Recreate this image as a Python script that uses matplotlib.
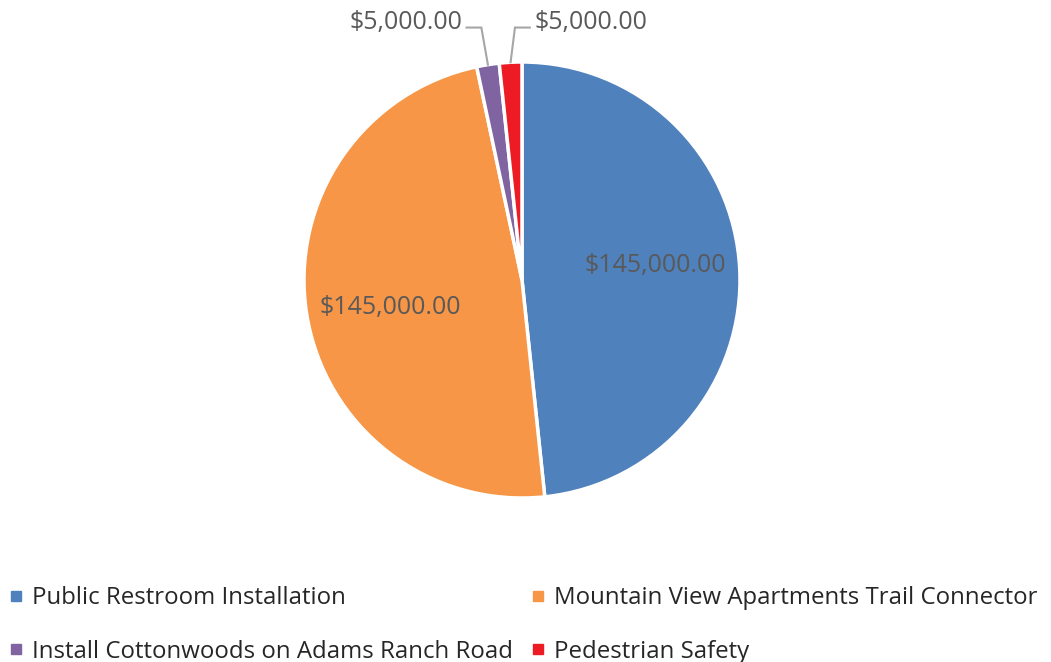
import numpy as np
import matplotlib
matplotlib.use('Agg')
from matplotlib import pyplot as plt
from matplotlib.lines import Line2D

plt.rcParams['font.family'] = ['Open Sans', 'DejaVu Sans']

categories = ['Public Restroom Installation',
              'Mountain View Apartments Trail Connector',
              'Install Cottonwoods on Adams Ranch Road',
              'Pedestrian Safety']
values = [145000, 145000, 5000, 5000]
colors = ['#4F81BD', '#F79646', '#8064A2', '#ED1C24']

W, H = 1051, 662
cx, cy, R = 522, 280, 218

fig = plt.figure(figsize=(W / 100, H / 100), dpi=100)
ax = fig.add_axes([(cx - R) / W, (H - cy - R) / H, 2 * R / W, 2 * R / H])
ax.axis('off')

wedges, _ = ax.pie(values, colors=colors, startangle=90, counterclock=False,
                   radius=1.0, wedgeprops=dict(edgecolor='white', linewidth=2.5))
ax.set_xlim(-1, 1)
ax.set_ylim(-1, 1)
ax.set_aspect('equal')

lbl_color = '#595959'
fs = 18

def fmt(v):
    return '${:,.2f}'.format(v)

# small vertical nudges for the big inside labels
nudge = {0: 0.035, 1: -0.03}

for i, w in enumerate(wedges):
    mid = np.deg2rad((w.theta1 + w.theta2) / 2)
    if values[i] > 50000:
        r = 0.61
        ax.text(r * np.cos(mid), r * np.sin(mid) + nudge.get(i, 0), fmt(values[i]),
                ha='center', va='center', fontsize=fs, color=lbl_color)
    else:
        ex, ey = np.cos(mid), np.sin(mid)
        side = -1 if ex < -0.1 else 1
        kx = ex + (-0.03 if side < 0 else 0.02)
        ky = 1.158
        hx = kx + side * 0.068
        ax.plot([ex, kx, hx], [ey, ky, ky], color='#A6A6A6', lw=1.5,
                clip_on=False, solid_joinstyle='miter')
        ax.text(hx + side * 0.02, 1.18, fmt(values[i]),
                ha='right' if side < 0 else 'left', va='center',
                fontsize=fs, color=lbl_color)

order = [0, 2, 1, 3]
handles = [Line2D([], [], marker='s', linestyle='none', markersize=7,
                  markerfacecolor=colors[i], markeredgecolor=colors[i])
           for i in order]
fig.legend(handles, [categories[i] for i in order], ncol=2,
           loc='lower left', bbox_to_anchor=(-0.007, -0.028),
           frameon=False, fontsize=17.3, handlelength=0.55, handletextpad=0.4,
           columnspacing=0.75, labelspacing=1.24, borderaxespad=0.3,
           labelcolor='#262626')

fig.savefig('out.png', dpi=100)
